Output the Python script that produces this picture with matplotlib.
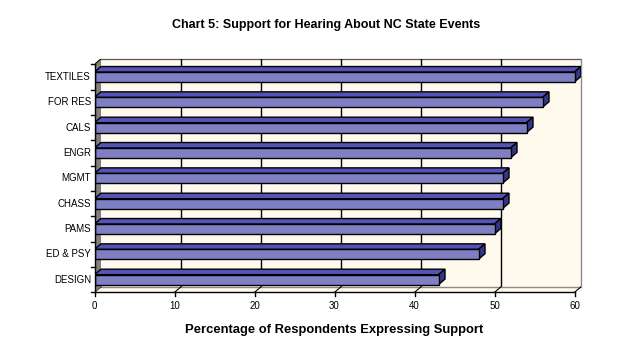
import matplotlib
matplotlib.use("Agg")
import matplotlib.pyplot as plt
from matplotlib.patches import Polygon, Rectangle

# data, bottom to top
colleges = ["DESIGN", "ED & PSY", "PAMS", "CHASS", "MGMT", "ENGR", "CALS", "FOR RES", "TEXTILES"]
support = [43, 48, 50, 51, 51, 52, 54, 56, 60]
xticks = [0, 10, 20, 30, 40, 50, 60]

# 3d look
dx = 6.5 / 8.0      # depth offset in x units
dy = 5.5 / 25.33    # depth offset in category units
bar_h = 0.39
front_col = "#7F7FC4"
top_col = "#5454B8"
side_col = "#35358A"
wall_col = "#FFF9EE"

plt.rcParams['font.family'] = ['Liberation Sans', 'DejaVu Sans']

fig = plt.figure(figsize=(6.24, 3.54), dpi=100)
W, H = 624, 354
x0, x1 = 94.5, 574.5
y_bot, y_top = 292.3, 64.3
n = len(colleges)
xmax = 60 + dx
ymax = n - 0.5 + dy
left = x0 / W
bottom = (H - y_bot) / H
width = (x1 - x0) / 60 * xmax / W
height = (y_bot - y_top) / n * (ymax + 0.5) / H
ax = fig.add_axes([left, bottom, width, height])
ax.set_xlim(0, xmax)
ax.set_ylim(-0.5, ymax)
ax.axis("off")

# back wall
ax.add_patch(Rectangle((dx, -0.5 + dy), 60, n, facecolor=wall_col, edgecolor="none", zorder=0))
ax.plot([dx, 60 + dx, 60 + dx], [n - 0.5 + dy, n - 0.5 + dy, -0.5 + dy], color="#8c8c8c", lw=1, zorder=1, clip_on=False)
for t in xticks[1:-1]:
    ax.plot([t + dx, t + dx], [-0.5 + dy, n - 0.5 + dy], color="black", lw=1, zorder=1)

# floor
ax.add_patch(Polygon([(0, -0.5), (60, -0.5), (60 + dx, -0.5 + dy), (dx, -0.5 + dy)],
                     closed=True, facecolor=wall_col, edgecolor="none", zorder=1))
ax.plot([dx, 60 + dx], [-0.5 + dy, -0.5 + dy], color="#8c8c8c", lw=1, zorder=1)
for t in xticks:
    ax.plot([t, t + dx], [-0.5, -0.5 + dy], color="black", lw=0.8, zorder=1)

# left wall
ax.add_patch(Polygon([(0, -0.5), (dx, -0.5 + dy), (dx, n - 0.5 + dy), (0, n - 0.5)],
                     closed=True, facecolor="#808080", edgecolor="none", zorder=1))
ax.plot([0, dx, 60 + dx], [n - 0.5, n - 0.5 + dy, n - 0.5 + dy], color="black", lw=0.8, zorder=2)

# bars
ypos = list(range(n))
ax.barh(ypos, support, height=bar_h, color=front_col, edgecolor="black", linewidth=1, zorder=4)
for y, v in zip(ypos, support):
    yt = y + bar_h / 2
    yb = y - bar_h / 2
    ax.add_patch(Polygon([(0, yt), (v, yt), (v + dx, yt + dy), (dx, yt + dy)], closed=True,
                         facecolor=top_col, edgecolor="black", lw=1, zorder=3))
    ax.add_patch(Polygon([(v, yb), (v + dx, yb + dy), (v + dx, yt + dy), (v, yt)], closed=True,
                         facecolor=side_col, edgecolor="black", lw=1, zorder=3))

# axes lines and ticks
ax.plot([0, 0], [-0.5, n - 0.5], color="black", lw=1, zorder=5, clip_on=False)
ax.plot([0, 60], [-0.5, -0.5], color="black", lw=1, zorder=5, clip_on=False)
tick_x = 4 / 8.0
tick_y = 4 / 25.33
for k in range(n + 1):
    ax.plot([-tick_x, 0], [k - 0.5, k - 0.5], color="black", lw=1, clip_on=False)
for t in xticks:
    ax.plot([t, t], [-0.5, -0.5 - tick_y], color="black", lw=1, clip_on=False)
    ax.text(t, -0.5 - 0.33, str(t), ha="center", va="top", fontsize=7)
for y, lab in zip(ypos, colleges):
    ax.text(-0.45, y, lab, ha="right", va="center", fontsize=7)

fig.text(326 / W, 1 - 25 / H, "Chart 5: Support for Hearing About NC State Events",
         ha="center", va="center", fontsize=9, fontweight="bold")
fig.text(334 / W, 1 - 330 / H, "Percentage of Respondents Expressing Support",
         ha="center", va="center", fontsize=9.4, fontweight="bold")

fig.savefig("out.png", dpi=100)
